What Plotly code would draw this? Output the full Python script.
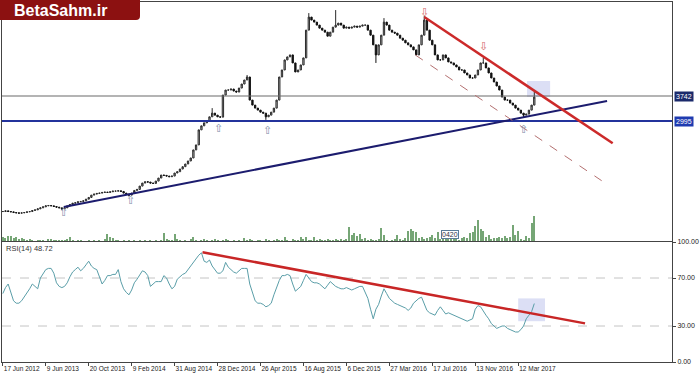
import plotly.graph_objects as go

# ---------------- data (weekly bars) ----------------
date_labels = ["17 Jun 2012", "9 Jun 2013", "20 Oct 2013", "9 Feb 2014", "31 Aug 2014",
               "28 Dec 2014", "26 Apr 2015", "16 Aug 2015", "6 Dec 2015", "27 Mar 2016",
               "17 Jul 2016", "13 Nov 2016", "12 Mar 2017"]
label_bars = [0, 16, 32, 48, 64, 80, 96, 112, 128, 144, 160, 176, 192]

close = [
    290, 310, 290, 280, 260, 250, 240, 250, 260, 280,
    290, 320, 340, 370, 400, 430, 460, 470, 460, 440,
    420, 400, 370, 400, 460, 500, 540, 550, 580, 590,
    610, 660, 710, 780, 810, 830, 840, 860, 870, 860,
    880, 900, 900, 910, 890, 840, 810, 780, 840, 920,
    950, 1050, 1140, 1180, 1170, 1140, 1130, 1200, 1290, 1380,
    1370, 1350, 1330, 1350, 1440, 1480, 1560, 1630, 1710, 1800,
    1890, 2130, 2280, 2730, 2850, 2940, 3000, 3120, 3230, 3170,
    3120, 3110, 3770, 3920, 3920, 3950, 3890, 3860, 3980, 4100,
    4220, 4310, 3620, 3470, 3380, 3320, 3260, 3230, 3120, 3170,
    3260, 3380, 3620, 4310, 4520, 4820, 4910, 4970, 4730, 4460,
    4520, 4670, 4880, 5710, 6100, 6010, 5950, 5860, 5770, 5710,
    5650, 5530, 5650, 5800, 5860, 5920, 5860, 5770, 5800, 5770,
    5800, 5830, 5800, 5830, 5860, 5860, 5710, 5560, 5270, 4970,
    5270, 5560, 5950, 5860, 5710, 5650, 5620, 5560, 5470, 5410,
    5330, 5270, 5210, 5120, 4970, 5270, 5560, 6010, 5710, 5410,
    5270, 4970, 4820, 4820, 4970, 4880, 4760, 4730, 4670, 4610,
    4520, 4520, 4430, 4370, 4280, 4280, 4370, 4520, 4730, 4730,
    4580, 4430, 4280, 4160, 4040, 3920, 3710, 3620, 3620, 3530,
    3470, 3380, 3320, 3230, 3170, 3200, 3320, 3470, 3710,
]
# visible wick extremes
spike_high = {78: 3380, 91: 4370, 114: 6220, 124: 6310, 142: 6070, 157: 6130, 179: 4880, 198: 3860}
spike_low = {22: 340, 47: 740, 98: 3030, 139: 4730, 194: 3100}

volume = [
    4, 3, 5, 5, 3, 4, 2, 3, 2, 1,
    2, 1, 0, 1, 1, 1, 0, 2, 2, 1,
    1, 1, 1, 1, 2, 4, 1, 0, 1, 1,
    0, 0, 1, 0, 1, 0, 1, 0, 2, 7,
    4, 3, 1, 1, 0, 1, 0, 1, 0, 1,
    0, 1, 0, 1, 0, 1, 0, 1, 0, 1,
    8, 2, 1, 1, 7, 2, 1, 0, 1, 0,
    2, 4, 1, 0, 1, 2, 1, 0, 1, 2,
    1, 0, 1, 2, 1, 0, 1, 0, 1, 0,
    3, 1, 2, 1, 0, 1, 1, 0, 2, 1,
    0, 1, 2, 1, 1, 4, 1, 0, 2, 1,
    1, 4, 2, 4, 1, 1, 4, 1, 2, 1,
    1, 2, 1, 1, 2, 1, 2, 1, 2, 14,
    6, 8, 5, 7, 2, 3, 1, 2, 1, 1,
    2, 13, 6, 1, 0, 1, 2, 6, 2, 1,
    3, 10, 12, 10, 9, 3, 4, 2, 3, 4,
    6, 3, 9, 2, 3, 2, 3, 2, 3, 2,
    1, 3, 4, 3, 8, 9, 15, 21, 12, 10,
    4, 6, 2, 3, 3, 4, 3, 5, 3, 4,
    16, 6, 10, 2, 1, 5, 3, 18, 25,
]

rsi = [
    57, 62, 65, 58, 51, 49, 49, 51, 54, 57,
    61, 65, 63, 61, 70, 74, 77, 78, 78, 74,
    66, 63, 62, 63, 66, 71, 75, 77, 79, 76,
    78, 81, 84, 80, 78, 77, 70, 65, 68, 72,
    72, 73, 73, 77, 67, 61, 58, 56, 60, 66,
    69, 72, 76, 75, 72, 63, 65, 67, 67, 67,
    72, 70, 65, 61, 63, 69, 71, 73, 74, 77,
    80, 83, 87, 89, 91, 84, 83, 85, 80, 77,
    74, 74, 76, 83, 79, 77, 75, 74, 76, 78,
    78, 78, 65, 57, 51, 49, 49, 48, 46, 47,
    49, 56, 63, 68, 72, 72, 73, 72, 65, 59,
    61, 63, 68, 73, 70, 67, 66, 66, 65, 63,
    61, 64, 67, 65, 63, 62, 61, 61, 62, 61,
    60, 61, 62, 63, 63, 58, 53, 44, 36, 44,
    48, 55, 61, 57, 53, 51, 49, 48, 47, 46,
    45, 43, 45, 49, 51, 53, 54, 49, 43, 41,
    40, 39, 43, 46, 43, 40, 41, 40, 39, 38,
    37, 36, 35, 34, 35, 36, 44, 47, 46, 42,
    39, 36, 32, 30, 28, 29, 30, 30, 28, 27,
    26, 25, 25, 27, 30, 36, 39, 42, 48.72,
]

levels = [3742, 2995]
level_colors = ["#6a6a6a", "#23339c"]
label_bg = ["#1b2a6b", "#1f3bb0"]

support_x, support_y = [22.7, 225.1], [425, 3593]
resist_x, resist_y = [157, 227.2], [6103, 2329]
channel_x, channel_y = [153.7, 223.1], [4967, 1211]
rsi_trend_x, rsi_trend_y = [74.4, 216.9], [91.4, 32.2]
price_box_x, price_box_y = [195.3, 203.9], [3712, 4190]
rsi_box_x, rsi_box_y = [192, 202], [34, 53]

up_arrows_x = [22.7, 47.6, 80.2, 98.6, 193.9]
up_arrows_y = [246, 605, 2771, 2726, 2756]
down_arrows_x = [157, 179.2]
down_arrows_y = [6252, 5236]

# ---------------- derived OHLC ----------------
n = len(close)
bars = list(range(n))
opens = [close[0]] + close[:-1]
highs = [max(o, c, spike_high.get(i, c)) for i, (o, c) in enumerate(zip(opens, close))]
lows = [min(o, c, spike_low.get(i, c)) for i, (o, c) in enumerate(zip(opens, close))]

W, H = 700, 377
def py(y):
    return 1 - y / H

X_DOM = [2 / W, 672 / W]
X_RANGE = [-0.3, 249.3]
FONT = "Liberation Sans"

fig = go.Figure()
fig.add_trace(go.Bar(x=bars, y=volume, xaxis="x", yaxis="y3", width=0.4,
                     marker=dict(color="#76a676", line=dict(width=0)), hoverinfo="skip"))
fig.add_trace(go.Candlestick(
    x=bars, open=opens, high=highs, low=lows, close=close, xaxis="x", yaxis="y",
    increasing=dict(line=dict(color="#2a2a2a", width=1), fillcolor="#c4c4c4"),
    decreasing=dict(line=dict(color="#111111", width=1), fillcolor="#111111"),
    whiskerwidth=0, showlegend=False))
fig.add_trace(go.Scatter(x=bars, y=rsi, xaxis="x2", yaxis="y2", mode="lines",
                         line=dict(color="#5a9ea8", width=1), showlegend=False))

shapes = []
for lv in (70, 30):
    shapes.append(dict(type="line", xref="x2 domain", yref="y2", x0=0, x1=1, y0=lv, y1=lv,
                       line=dict(color="#c4c4c4", width=1, dash="dash"), layer="below"))
shapes.append(dict(type="rect", xref="x", yref="y", x0=price_box_x[0], x1=price_box_x[1],
                   y0=price_box_y[0], y1=price_box_y[1], fillcolor="#dcdff5",
                   line=dict(width=0), layer="below"))
shapes.append(dict(type="rect", xref="x2", yref="y2", x0=rsi_box_x[0], x1=rsi_box_x[1],
                   y0=rsi_box_y[0], y1=rsi_box_y[1], fillcolor="#dcdff5",
                   line=dict(width=0), layer="below"))
for lv, col, w in zip(levels, level_colors, [1.2, 2]):
    shapes.append(dict(type="line", xref="x domain", yref="y", x0=0, x1=1, y0=lv, y1=lv,
                       line=dict(color=col, width=w)))
shapes.append(dict(type="line", xref="x", yref="y", x0=support_x[0], x1=support_x[1],
                   y0=support_y[0], y1=support_y[1], line=dict(color="#1c1c6e", width=2)))
shapes.append(dict(type="line", xref="x", yref="y", x0=resist_x[0], x1=resist_x[1],
                   y0=resist_y[0], y1=resist_y[1], line=dict(color="#cc2a2a", width=2.5)))
shapes.append(dict(type="line", xref="x", yref="y", x0=channel_x[0], x1=channel_x[1],
                   y0=channel_y[0], y1=channel_y[1],
                   line=dict(color="#b47070", width=1, dash="dash")))
shapes.append(dict(type="line", xref="x2", yref="y2", x0=rsi_trend_x[0], x1=rsi_trend_x[1],
                   y0=rsi_trend_y[0], y1=rsi_trend_y[1], line=dict(color="#c82626", width=2.5)))
x1p, x2p = 136 / W, 140 / W
shapes.append(dict(type="path", xref="paper", yref="paper",
                   path=f"M 0,1 L {x2p},1 L {x2p},{py(16)} Q {x2p},{py(20)} {x1p},{py(20)} L 0,{py(20)} Z",
                   fillcolor="#8c1111", line=dict(width=0)))

annotations = []
for xa, ya in zip(up_arrows_x, up_arrows_y):
    annotations.append(dict(x=xa, y=ya, xref="x", yref="y", text="⇧", showarrow=False,
                            xanchor="center", yanchor="middle",
                            font=dict(family="DejaVu Sans", size=11, color="#7f8ea8")))
for xa, ya in zip(down_arrows_x, down_arrows_y):
    annotations.append(dict(x=xa, y=ya, xref="x", yref="y", text="⇩", showarrow=False,
                            xanchor="center", yanchor="middle",
                            font=dict(family="DejaVu Sans", size=11, color="#d46a6a")))
for lv, bg in zip(levels, label_bg):
    annotations.append(dict(x=674 / W, y=lv, xref="paper", yref="y", xanchor="left",
                            yanchor="middle", text=str(lv), showarrow=False, bgcolor=bg,
                            borderpad=1, font=dict(family=FONT, size=7, color="white")))
annotations.append(dict(x=4 / W, y=py(249), xref="paper", yref="paper", xanchor="left",
                        yanchor="middle", text=f"RSI(14) {rsi[-1]:.2f}", showarrow=False,
                        font=dict(family=FONT, size=7.5, color="#333333")))
annotations.append(dict(x=441 / W, y=py(235), xref="paper", yref="paper", xanchor="left",
                        yanchor="middle", text="0420", showarrow=False, bgcolor="white",
                        bordercolor="#5b7c99", borderwidth=1, borderpad=0,
                        font=dict(family=FONT, size=7, color="#334")))
annotations.append(dict(x=12 / W, y=py(10.5), xref="paper", yref="paper", xanchor="left",
                        yanchor="middle", text="<b>BetaSahm.ir</b>", showarrow=False,
                        font=dict(family="Liberation Sans", size=16, color="white")))

axis_line = dict(showline=True, mirror=True, linecolor="#444444", linewidth=1,
                 showgrid=False, zeroline=False, automargin=False)

fig.update_layout(
    width=W, height=H, margin=dict(l=0, r=0, t=0, b=0, autoexpand=False),
    paper_bgcolor="white", plot_bgcolor="white", showlegend=False,
    xaxis=dict(domain=X_DOM, range=X_RANGE, anchor="y", showticklabels=False,
               rangeslider=dict(visible=False), **axis_line),
    yaxis=dict(domain=[py(241), py(2)], range=[-591, 6551], anchor="x",
               showticklabels=False, **axis_line),
    yaxis3=dict(overlaying="y", range=[0, 239], visible=False, anchor="x"),
    xaxis2=dict(domain=X_DOM, range=X_RANGE, anchor="y2", tickvals=label_bars,
                ticktext=date_labels, ticklabelposition="outside right", ticks="outside",
                ticklen=3, tickcolor="#444", tickangle=0,
                tickfont=dict(family=FONT, size=6.5, color="#222"), **axis_line),
    yaxis2=dict(domain=[py(362), py(242)], range=[0, 100], anchor="x2", side="right",
                tickvals=[0, 30, 70, 100], ticktext=["0.00", "30.00", "70.00", "100.00"],
                ticks="outside", ticklen=3, tickcolor="#444",
                tickfont=dict(family=FONT, size=7, color="#222"), **axis_line),
    shapes=shapes, annotations=annotations,
)

fig.write_html("out.html", config={"displayModeBar": False},
               post_script="document.body.style.margin='0px';document.body.style.overflow='hidden';")
